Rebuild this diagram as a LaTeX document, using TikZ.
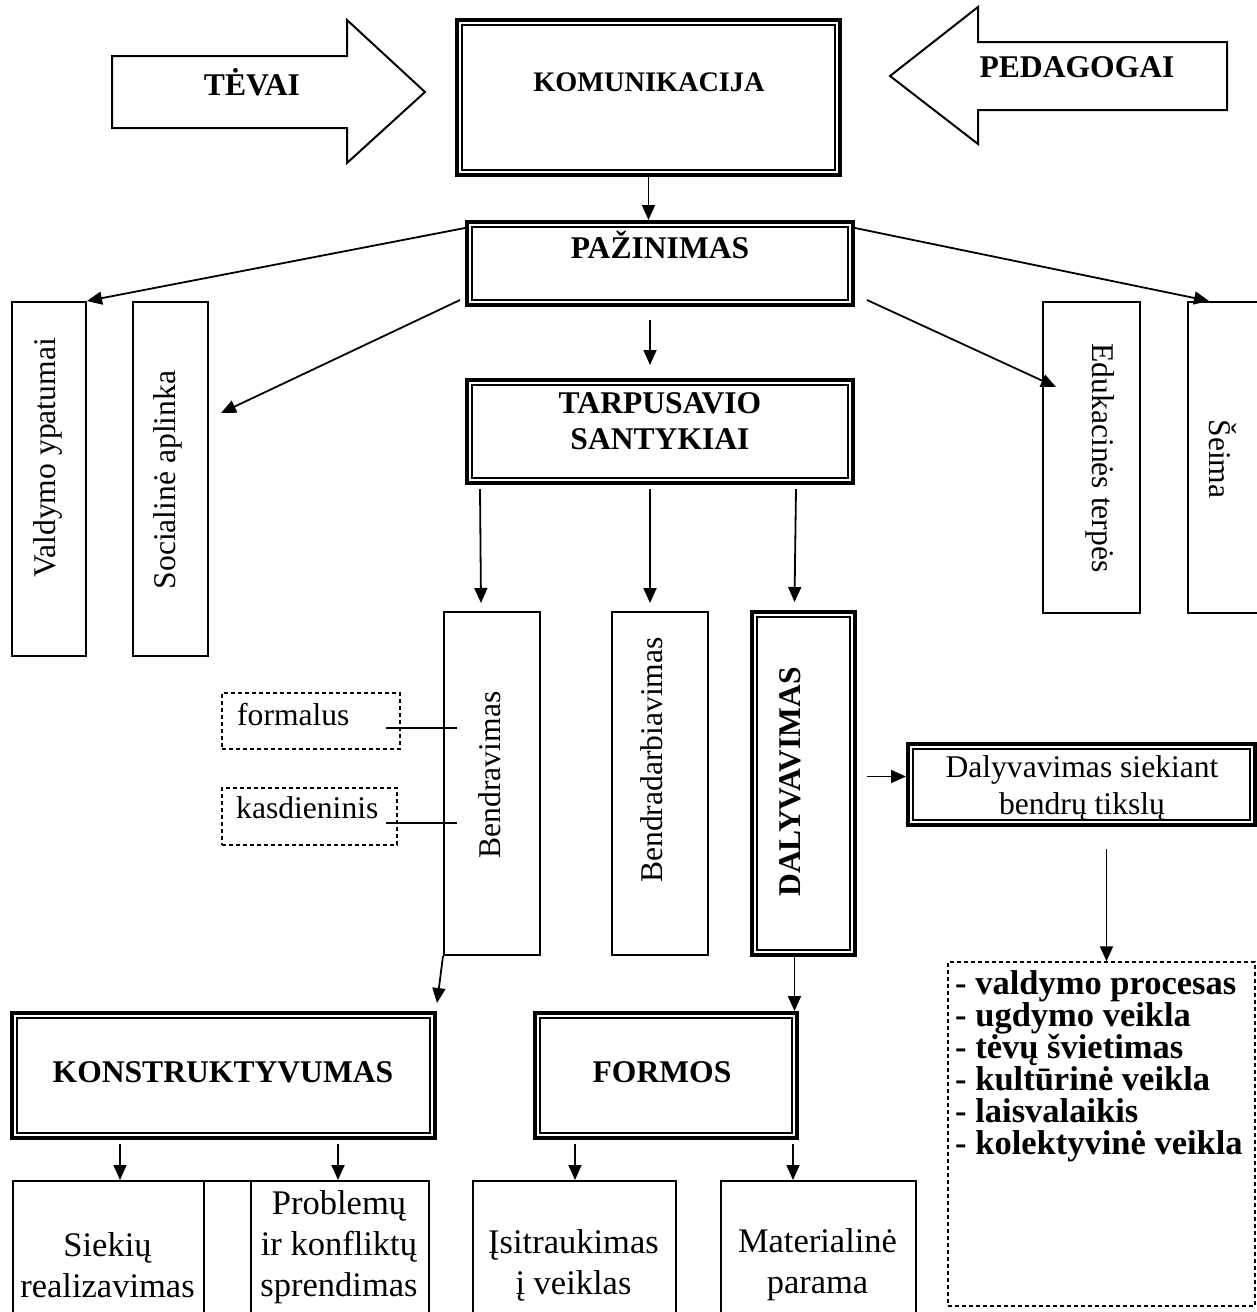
\documentclass[tikz,border=0pt]{standalone}
\usepackage{fontspec}
\setmainfont{Liberation Serif}
\usetikzlibrary{arrows.meta,positioning,calc}
\tikzset{
  box/.style      = {draw, line width=2pt, inner sep=0pt},
  dblbox/.style   = {draw, line width=4pt, inner sep=0pt,
                     path picture={\draw[line width=1.5pt]
                       ([shift={(5pt,5pt)}]path picture bounding box.south west) rectangle
                       ([shift={(-5pt,-5pt)}]path picture bounding box.north east);}},
  dashbox/.style  = {draw, line width=1.5pt, dash pattern=on 4pt off 3pt, inner sep=0pt},
  blockarrow/.style = {draw, line width=2pt, line join=miter},
  title/.style    = {font=\bfseries\fontsize{31.6}{36}\selectfont, align=center, inner sep=0pt},
  txt/.style      = {font=\fontsize{31.6}{37}\selectfont, align=center, inner sep=0pt},
  cell/.style     = {font=\fontsize{34.5}{41}\selectfont, align=center, inner sep=0pt},
  arr/.style      = {-{Triangle[length=15pt,width=13pt]}, line width=1.8pt},
  link/.style     = {line width=1.8pt}
}

\begin{document}
\begin{tikzpicture}[x=1pt, y=-1pt]
    \clip (0,0) rectangle (1257,1312);
    % Block arrows
    \draw[blockarrow] (112,56) -- (347,56) -- (347,20) -- (425,92) -- (347,163) -- (347,128) -- (112,128) -- cycle;
    \node[title] (tevai) at (252,82) {TĖVAI};
    \draw[blockarrow] (1227,42) -- (978,42) -- (978,7) -- (890,76) -- (978,144) -- (978,110) -- (1227,110) -- cycle;
    \node[title] (pedagogai) at (1077,67) {PEDAGOGAI};
    % Main chain
    \node[dblbox, minimum width=383pt, minimum height=155pt] (kom) at (648.5,97.5) {};
    \node[title, font=\bfseries\fontsize{28.3}{34}\selectfont] (komtxt) at (649,82) {KOMUNIKACIJA};
    \node[dblbox, minimum width=386pt, minimum height=83pt] (paz) at (660,263.5) {};
    \node[title] (paztxt) at (660,245) {PAŽINIMAS};
    \node[dblbox, minimum width=386pt, minimum height=103pt] (tarp) at (660,431.5) {};
    \node[title] (tarptxt) at (660,421) {TARPUSAVIO\\SANTYKIAI};
    % Side boxes
    \node[box, minimum width=74pt, minimum height=354pt] (valdymo) at (49,479) {};
    \node[txt, rotate=90] (valdtxt) at (48,458) {Valdymo ypatumai};
    \node[box, minimum width=75pt, minimum height=354pt] (social) at (170.5,479) {};
    \node[txt, rotate=90] (soctxt) at (168,480) {Socialinė aplinka};
    \node[box, minimum width=97pt, minimum height=311pt] (eduk) at (1091.5,457.5) {};
    \node[txt, rotate=-90] (edutxt) at (1100,458) {Edukacinės terpės};
    \node[box, minimum width=82pt, minimum height=311pt] (seima) at (1229,457.5) {};
    \node[txt, rotate=-90] (seimatxt) at (1223,459) {Šeima};
    % Middle row
    \node[box, minimum width=96pt, minimum height=343pt] (bendr) at (492,783.5) {};
    \node[txt, rotate=90] (bendrtxt) at (490,775) {Bendravimas};
    \node[box, minimum width=96pt, minimum height=343pt] (bendrad) at (660,783.5) {};
    \node[txt, rotate=90] (bendradtxt) at (652,760) {Bendradarbiavimas};
    \node[dblbox, minimum width=103pt, minimum height=343pt] (daly) at (803.5,783.5) {};
    \node[title, rotate=90] (dalytxt) at (790,782) {DALYVAVIMAS};
    \node[dashbox, minimum width=178pt, minimum height=56pt] (formalus) at (311,721) {};
    \node[txt, anchor=west] (formtxt) at (237,715) {formalus};
    \node[dashbox, minimum width=175pt, minimum height=57pt] (kasd) at (309.5,816.5) {};
    \node[txt, anchor=west] (kasdtxt) at (236,808) {kasdieninis};
    \node[dblbox, minimum width=347pt, minimum height=81pt] (siekiant) at (1081.5,784.5) {};
    \node[txt] (siekianttxt) at (1082,788) {Dalyvavimas siekiant\\bendrų tikslų};
    \node[dashbox, minimum width=307pt, minimum height=344pt] (veiklos) at (1101.5,1134) {};
    \node[title, align=left, anchor=north west, font=\bfseries\fontsize{34.5}{32}\selectfont] (veiklostxt) at (955,970)
      {- valdymo procesas\\- ugdymo veikla\\- tėvų švietimas\\- kultūrinė veikla\\- laisvalaikis\\- kolektyvinė veikla};
    % Lower row
    \node[dblbox, minimum width=423pt, minimum height=125pt] (konstr) at (223.5,1075.5) {};
    \node[title] (konstrtxt) at (223,1072) {KONSTRUKTYVUMAS};
    \node[dblbox, minimum width=262pt, minimum height=125pt] (formos) at (666,1075.5) {};
    \node[title] (formostxt) at (662,1072) {FORMOS};
    % Bottom row
    \node[box, anchor=north west, minimum width=191pt, minimum height=150pt] (siekiu) at (12,1180) {};
    \node[box, anchor=north west, minimum width=47pt, minimum height=150pt] (tarpas) at (203,1180) {};
    \node[box, anchor=north west, minimum width=178pt, minimum height=150pt] (problemu) at (250,1180) {};
    \node[box, anchor=north west, minimum width=203pt, minimum height=150pt] (isitr) at (472,1180) {};
    \node[box, anchor=north west, minimum width=195pt, minimum height=150pt] (material) at (720,1180) {};
    \node[cell] (siekiutxt) at (107.5,1265) {Siekių\\realizavimas};
    \node[cell] (problemutxt) at (339,1247) {Problemų\\ir konfliktų\\sprendimas};
    \node[cell] (isitrtxt) at (573.5,1265) {Įsitraukimas\\į veiklas};
    \node[cell] (materialtxt) at (817.5,1265) {Materialinė\\parama};
    % Connectors
    \draw[arr] (kom.south) -- (kom.south |- paz.north);
    \draw[arr] ([yshift=-8pt]paz.north west) -- (valdymo.north east);
    \draw[arr] ([xshift=-5pt,yshift=7pt]paz.south west) -- ($(social.north east)+(12,112)$);
    \draw[arr] ([yshift=-8pt]paz.north east) -- ($(seima.north west)+(22,0)$);
    \draw[arr] ([xshift=12pt,yshift=7pt]paz.south east) -- ($(eduk.north west)+(14,86)$);
    \draw[arr] ([xshift=-10pt,yshift=-13pt]paz.south) -- ([xshift=-10pt,yshift=13pt]tarp.north);
    \draw[arr] ($(tarp.south west)+(15,4)$) -- ($(bendr.north west)+(38,-8)$);
    \draw[arr] ($(tarp.south)+(-10,4)$) -- ($(bendrad.north)+(-10,-8)$);
    \draw[arr] ($(tarp.south east)+(-59,4)$) -- ($(daly.north)+(-9,-8)$);
    \draw[link] ($(formalus.east)+(-15,7)$) -- ($(bendr.west |- formalus.east)+(14,7)$);
    \draw[link] ($(kasd.east)+(-12,6.5)$) -- ($(bendr.west |- kasd.east)+(14,6.5)$);
    \draw[arr] ($(daly.east)+(10,-7)$) coordinate (dalyout) -- (dalyout -| siekiant.west);
    \draw[arr] ($(siekiant.south)+(25,22)$) coordinate (siekout) -- (siekout |- veiklos.north);
    \draw[arr] (bendr.south west) -- ($(konstr.north east)+(0,-8)$);
    \draw[arr] ($(daly.south)+(-9,0)$) coordinate (dalydown) -- (dalydown |- formos.north);
    \draw[arr] ($(konstr.south west)+(110,4)$) coordinate (k1) -- (k1 |- siekiu.north);
    \draw[arr] ($(konstr.south west)+(328,4)$) coordinate (k2) -- (k2 |- problemu.north);
    \draw[arr] ($(formos.south west)+(42,4)$) coordinate (f1) -- (f1 |- isitr.north);
    \draw[arr] ($(formos.south west)+(260,4)$) coordinate (f2) -- (f2 |- material.north);
\end{tikzpicture}
\end{document}
